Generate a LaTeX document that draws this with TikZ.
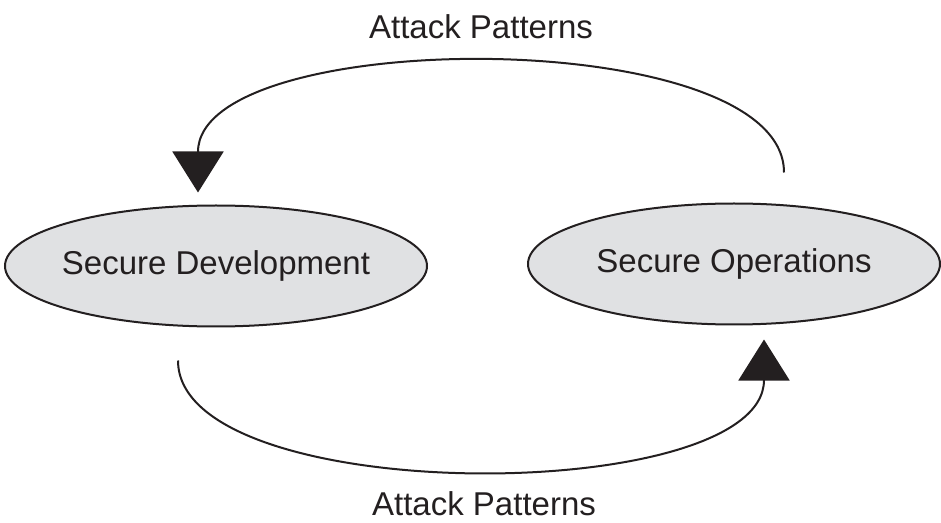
\documentclass[tikz,border=0pt]{standalone}
\usepackage{fontspec}
\setmainfont{Liberation Sans}
\usepackage{tikz}
\usetikzlibrary{shapes.geometric,arrows.meta}
\definecolor{ellfill}{RGB}{224,225,227}
\definecolor{inkblack}{RGB}{35,31,32}

\begin{document}
\begin{tikzpicture}[x=0.5pt, y=-0.5pt, line width=1pt, inkblack,
    phase/.style={ellipse, draw, fill=ellfill, inner ysep=0pt, inner xsep=-5pt, minimum width=211pt, minimum height=60.5pt, font=\fontsize{16.5}{20}\selectfont},
    flow/.style={-{Triangle[width=25.5pt,length=20.5pt]}},
    flowlabel/.style={inner sep=0pt, font=\fontsize{16.5}{20}\selectfont}] % sizes in px of the page

        \useasboundingbox (0,0) rectangle (941,523);

        % The two phases
        \node[phase] (dev) at (216, 266) {Secure Development};
        \node[phase, minimum width=206pt] (ops) at (734, 264) {Secure Operations};

        % Labels above and below the loop
        \node[flowlabel] (topLbl) at (481, 27) {Attack Patterns};
        \node[flowlabel] (botLbl) at (484, 504) {Attack Patterns};

        % Feedback from operations back to development
        \draw[flow, shorten <=15pt, shorten >=6pt] ([xshift=25pt]ops.north) to[out=90, in=90, looseness=0.78] ([xshift=-9pt]dev.north);
        % Development feeding operations
        \draw[flow, shorten <=16.5pt, shorten >=7pt] ([xshift=-19pt]dev.south) to[out=-90, in=-90, looseness=0.79] ([xshift=15pt]ops.south);
\end{tikzpicture}
\end{document}
